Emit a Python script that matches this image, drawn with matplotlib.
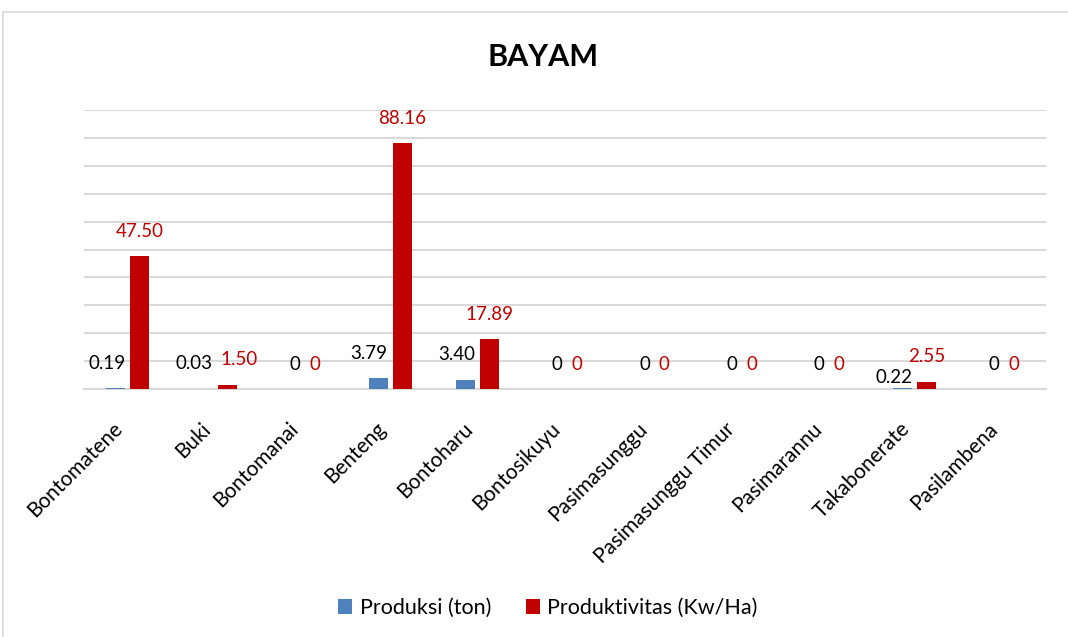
import matplotlib
matplotlib.use("Agg")
import matplotlib.pyplot as plt
import matplotlib.transforms as mtransforms
from matplotlib.patches import Rectangle
import numpy as np

categories = ["Bontomatene", "Buki", "Bontomanai", "Benteng", "Bontoharu",
              "Bontosikuyu", "Pasimasunggu", "Pasimasunggu Timur",
              "Pasimarannu", "Takabonerate", "Pasilambena"]
produksi = [0.19, 0.03, 0, 3.79, 3.40, 0, 0, 0, 0, 0.22, 0]
produktivitas = [47.50, 1.50, 0, 88.16, 17.89, 0, 0, 0, 0, 2.55, 0]
produksi_labels = ["0.19", "0.03", "0", "3.79", "3.40", "0", "0", "0", "0", "0.22", "0"]
produktivitas_labels = ["47.50", "1.50", "0", "88.16", "17.89", "0", "0", "0", "0", "2.55", "0"]

BLUE = "#4f81bd"
RED = "#c00000"
GRID = "#d9d9d9"
FONT = "Lato"

W, H, DPI = 1068, 637, 100
fig = plt.figure(figsize=(W / DPI, H / DPI), dpi=DPI)

# outer chart border (extends past right and bottom edges)
fig.patches.append(Rectangle((3 / W, -0.2), 1.2, 0.2 + (H - 12) / H,
                             transform=fig.transFigure, fill=False,
                             edgecolor="#d9d9d9", lw=1.2))

ax = fig.add_axes([84 / W, (H - 389) / H, (1046 - 84) / W, (389 - 110) / H])
x = np.arange(len(categories))
bw = 0.216
off = 0.137
ax.bar(x - off, produksi, bw, color=BLUE, label="Produksi (ton)", zorder=3)
ax.bar(x + off, produktivitas, bw, color=RED, label="Produktivitas (Kw/Ha)", zorder=3)

ax.set_xlim(-0.5, len(categories) - 0.5)
ax.set_ylim(0, 100)
ax.set_yticks(np.arange(0, 101, 10))
ax.yaxis.grid(True, color=GRID, lw=1.5, zorder=0)
ax.set_axisbelow(True)
ax.tick_params(axis="y", left=False, labelleft=False)
ax.tick_params(axis="x", bottom=False, pad=23)
for s in ["top", "right", "left"]:
    ax.spines[s].set_visible(False)
ax.spines["bottom"].set_color(GRID)
ax.spines["bottom"].set_linewidth(1.5)

ax.set_xticks(x)
ax.set_xticklabels(categories, rotation=45, ha="right", va="center",
                   rotation_mode="anchor", fontsize=15, family=FONT, color="#000000")
shift = mtransforms.ScaledTranslation(-8 / DPI, 0, fig.dpi_scale_trans)
for lab in ax.get_xticklabels():
    lab.set_transform(lab.get_transform() + shift)

# data labels
red_dx = [0, 8.6, 0, 0, 0, 0, 0, 0, 0, 0, 0]
blue_dy = [18, 18, 18, 18, 18, 18, 18, 18, 18, 8, 18]
for i in range(len(categories)):
    ax.annotate(produksi_labels[i], (x[i] - off + bw / 2, produksi[i]),
                xytext=(0, blue_dy[i]), textcoords="offset points",
                ha="right", va="center", fontsize=13.5, family=FONT, color="#000000")
    ax.annotate(produktivitas_labels[i], (x[i] + off, produktivitas[i]),
                xytext=(red_dx[i], 18), textcoords="offset points",
                ha="center", va="center", fontsize=13.5, family=FONT, color=RED)

fig.text(543 / W, 1 - 57 / H, "BAYAM", ha="center", va="center",
         fontsize=22, fontweight="bold", family=FONT)

leg = fig.legend(loc="center", bbox_to_anchor=(548 / W, 1 - 608 / H), ncol=2,
                 frameon=False, prop={"family": FONT, "size": 15.5},
                 handlelength=0.65, handleheight=0.65, handletextpad=0.35,
                 columnspacing=1.6)

fig.savefig("out.png", dpi=DPI)
